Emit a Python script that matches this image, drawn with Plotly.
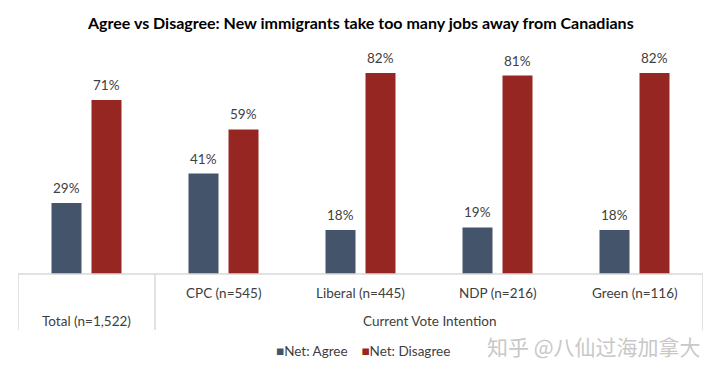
import plotly.graph_objects as go

categories = ["Total (n=1,522)", "CPC (n=545)", "Liberal (n=445)", "NDP (n=216)", "Green (n=116)"]
net_agree = [29, 41, 18, 19, 18]
net_disagree = [71, 59, 82, 81, 82]
series_names = ["Net: Agree", "Net: Disagree"]
group_label = "Current Vote Intention"
title_text = "Agree vs Disagree: New immigrants take too many jobs away from Canadians"
watermark = "知乎 @八仙过海加拿大"

AGREE = "#44546A"
DISAGREE = "#952622"
FONT = "Lato, 'Liberation Sans', sans-serif"
GRID = "#D9D9D9"
TXT = "#404040"

# page body has an 8px margin; all pixel targets below are window coordinates
OFF = 8
W, HT = 720 - OFF, 374 - OFF
PL, PR, PT, PB = 18, 703, 29, 274  # plot area in window px
H = PB - PT

def px(x):  # window x -> x paper
    return (x - PL) / (PR - PL)

def py(y):  # window y -> y paper
    return (PB - y) / H

xs = list(range(len(categories)))
fig = go.Figure()
annotations = []
offsets = [-0.5, 0.5]
for k, (name, vals, col) in enumerate([(series_names[0], net_agree, AGREE), (series_names[1], net_disagree, DISAGREE)]):
    fig.add_trace(go.Bar(
        x=xs, y=vals, name=name, marker=dict(color=col, line=dict(width=0)),
        showlegend=False, hoverinfo="y",
    ))

# value labels (positioned via axes)
slot = 0.584 / 2  # category fraction per bar slot
for k, vals in enumerate([net_agree, net_disagree]):
    for i, v in enumerate(vals):
        annotations.append(dict(x=i + offsets[k] * slot, y=v, xref="x", yref="y", text=f"{v}%",
                                showarrow=False, yanchor="bottom", yshift=5,
                                font=dict(family=FONT, size=13.5, color=TXT)))

shapes = []
shapes.append(dict(type="line", xref="x", yref="paper", x0=-0.5, x1=len(categories) - 0.5, y0=0, y1=0,
                   line=dict(color=GRID, width=1.5)))
for xv in [-0.5, 0.5, len(categories) - 0.5]:
    shapes.append(dict(type="line", xref="x", yref="paper", x0=xv, x1=xv, y0=0, y1=py(330),
                       line=dict(color=GRID, width=1.5)))

for i, c in enumerate(categories):
    yy = py(321) if i == 0 else py(293)
    annotations.append(dict(x=i, y=yy, xref="x", yref="paper", text=c, showarrow=False,
                            font=dict(family=FONT, size=13.5, color=TXT), yanchor="middle"))
annotations.append(dict(x=2.5, y=py(321), xref="x", yref="paper", text=group_label, showarrow=False,
                        font=dict(family=FONT, size=13.5, color=TXT), yanchor="middle"))
legend_text = (f"<span style='color:{AGREE}'>■</span>{series_names[0]}"
               f"&nbsp;&nbsp;&nbsp;&nbsp;<span style='color:{DISAGREE}'>■</span>{series_names[1]}")
annotations.append(dict(x=px(274), y=py(351), xref="paper", yref="paper", text=legend_text, showarrow=False,
                        font=dict(family=FONT, size=13.5, color=TXT), yanchor="middle", xanchor="left"))
annotations.append(dict(x=px(703), y=py(346), xref="paper", yref="paper", text=watermark, showarrow=False,
                        font=dict(family="'Noto Sans CJK SC', sans-serif", size=21, color="#C8C8C8"),
                        yanchor="middle", xanchor="right"))
annotations.append(dict(x=px(360), y=py(22), xref="paper", yref="paper", text=f"<b>{title_text}</b>",
                        showarrow=False, font=dict(family=FONT, size=16, color="#000000"),
                        yanchor="middle", xanchor="center"))

fig.update_layout(
    width=W, height=HT,
    margin=dict(l=PL - OFF, r=W - (PR - OFF), t=PT - OFF, b=HT - (PB - OFF), pad=0),
    paper_bgcolor="white", plot_bgcolor="white",
    barmode="group", bargap=0.416, bargroupgap=0.25,
    xaxis=dict(range=[-0.5, len(categories) - 0.5], showticklabels=False, showgrid=False,
               zeroline=False, showline=False, ticks="", fixedrange=True),
    yaxis=dict(range=[0, 100], visible=False, fixedrange=True),
    shapes=shapes, annotations=annotations, showlegend=False,
)
fig.write_html("out.html")
